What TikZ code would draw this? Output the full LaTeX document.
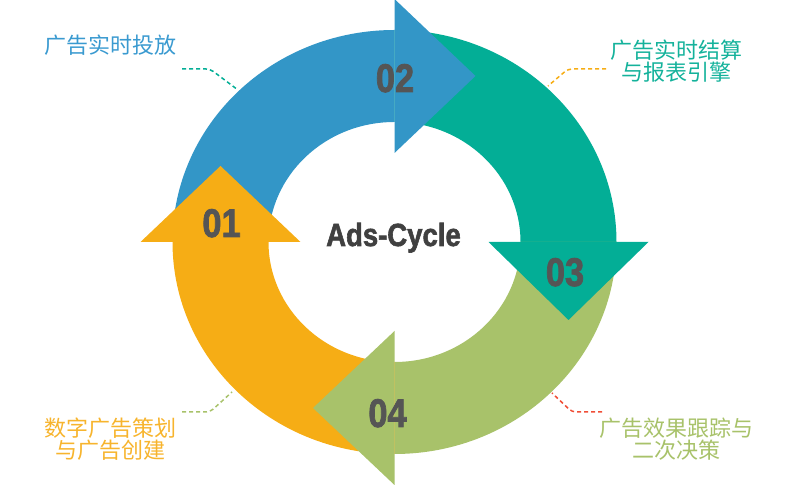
\documentclass[tikz,border=0pt]{standalone}
\usepackage{graphicx}
\usepackage{fontspec}
\setmainfont{Liberation Sans}
\newfontfamily\heavyfont{Liberation Sans}[BoldFeatures={FakeBold=2}]
\newfontfamily\cjk{Noto Sans CJK SC}
\usetikzlibrary{calc}

\definecolor{cblue}{RGB}{51,150,199}
\definecolor{cteal}{RGB}{3,174,150}
\definecolor{cgreen}{RGB}{168,194,106}
\definecolor{corange}{RGB}{246,173,21}
\definecolor{cred}{RGB}{240,78,55}
\definecolor{numgray}{RGB}{85,85,85}
\definecolor{titlegray}{RGB}{64,64,64}
\definecolor{lblue}{RGB}{58,154,208}
\definecolor{lteal}{RGB}{20,178,155}
\definecolor{lorange}{RGB}{247,180,45}
\definecolor{lgreen}{RGB}{168,194,106}

\tikzset{
  stepnum/.style={text=numgray, anchor=base, inner sep=0pt,
    font=\fontsize{40}{40}\selectfont\heavyfont\bfseries},
  caption/.style={align=center, inner sep=0pt,
    font=\fontsize{22}{22}\selectfont\cjk},
  leader/.style={dashed, dash pattern=on 4pt off 3pt, line width=1.5pt, rounded corners=4pt},
}

% ring geometry: outer and inner radii (x and y)
\def\orx{222}\def\ory{212}
\def\irx{126}\def\iry{120}

\newcommand{\ringpart}[3]{%
  \fill[#1] ($(C)+(#2:\orx pt and \ory pt)$)
    arc[start angle=#2, end angle=#3, x radius=\orx pt, y radius=\ory pt]
    -- ($(C)+(#3:\irx pt and \iry pt)$)
    arc[start angle=#3, end angle=#2, x radius=\irx pt, y radius=\iry pt]
    -- cycle;}

\begin{document}
\begin{tikzpicture}[x=1pt,y=1pt]
\useasboundingbox (0,0) rectangle (804,486);
\coordinate (C) at (394.5,244);

% quarter bodies of the four arrows
\ringpart{cblue}{180}{90}
\ringpart{cteal}{90}{0}
\ringpart{cgreen}{0}{-90}
\ringpart{corange}{270}{180}

% arrow heads, drawn over the following body
\fill[cblue]   (394.5,487) -- (475.5,410) -- (394.5,333) -- cycle;
\fill[cteal]   (488.5,244) -- (568.5,166) -- (648.5,244) -- cycle;
\fill[cgreen]  (394.5,155) -- (313,78) -- (394.5,1) -- cycle;
\fill[corange] (140.5,244) -- (220.5,320) -- (300.5,244) -- cycle;

% step numbers
\node[stepnum] (n01) at (221.5,249) {\scalebox{0.86}[1]{01}};
\node[stepnum] (n02) at (395,394) {\scalebox{0.86}[1]{02}};
\node[stepnum] (n03) at (565,200) {\scalebox{0.86}[1]{03}};
\node[stepnum] (n04) at (387.5,59) {\scalebox{0.86}[1]{04}};

% title
\node[text=titlegray, anchor=base, inner sep=0pt,
      font=\fontsize{32}{32}\selectfont\heavyfont\bfseries] (title) at (393.5,240)
  {\scalebox{0.86}[1]{Ads-Cycle}};

% captions
\node[caption, text=lblue]   (c1) at (111,441) {广告实时投放};
\node[caption, text=lteal]   (c2) at (676,425) {广告实时结算\\与报表引擎};
\node[caption, text=lorange] (c3) at (111,47)  {数字广告策划\\与广告创建};
\node[caption, text=lgreen]  (c4) at (676,47)  {广告效果跟踪与\\二次决策};

% leader lines
\coordinate (a1) at (182,417); \coordinate (b1) at (238,396);
\coordinate (a2) at (606,417); \coordinate (b2) at (548,400);
\coordinate (a3) at (182,74);  \coordinate (b3) at (232,94);
\coordinate (a4) at (602,74);  \coordinate (b4) at (552,93);
\draw[leader, cteal]  (a1) -- (210,417) -- (b1);
\draw[leader, corange] (a2) -- (568,417) -- (b2);
\draw[leader, cgreen] (a3) -- (210,74) -- (b3);
\draw[leader, cred]   (a4) -- (572,74) -- (b4);
\end{tikzpicture}
\end{document}
